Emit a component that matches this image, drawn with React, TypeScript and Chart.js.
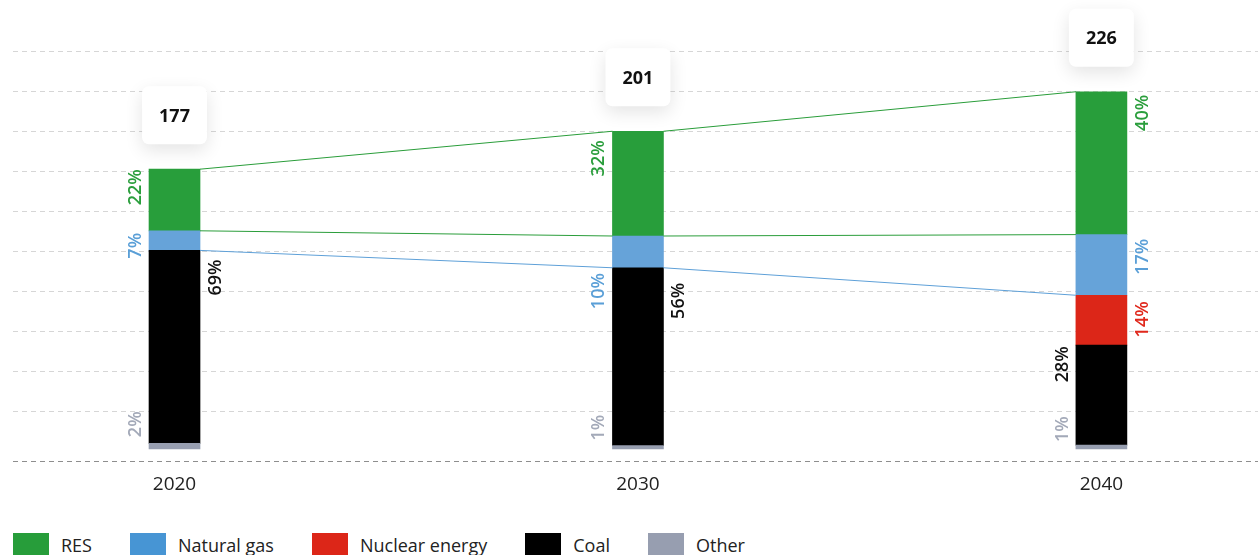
import React, { useEffect, useRef } from "react";
import { Chart, registerables } from "chart.js";

Chart.register(...registerables);

// ---- data -------------------------------------------------------------
const YEARS = [2020, 2030, 2040];

// generation by source (stacked bottom to top: other, coal, nuclear, gas, RES)
const RES = [39.0, 66.3, 90.4];
const NATURAL_GAS = [12.4, 20.1, 38.4];
const NUCLEAR = [null, null, 31.6];
const COAL = [122.1, 112.6, 63.3];
const OTHER = [3.5, 2.0, 2.3];

// share of each source in the yearly total, %
const RES_SHARE = [22, 32, 40];
const GAS_SHARE = [7, 10, 17];
const NUCLEAR_SHARE = [null, null, 14];
const COAL_SHARE = [69, 56, 28];
const OTHER_SHARE = [2, 1, 1];

// ---- look & layout ----------------------------------------------------
const FONT = '"Open Sans", "Noto Sans", sans-serif';

type Side = "left" | "right";
interface Series {
  label: string;
  data: (number | null)[];
  share: (number | null)[];
  bar: string;
  legend: string;
  text: string;
  side: Side[];
  shift: number[]; // vertical nudge of the rotated share label from the segment top
}

const SERIES: Series[] = [
  { label: "Other", data: OTHER, share: OTHER_SHARE, bar: "#979eb0", legend: "#979eb0", text: "#a3a9b8", side: ["left", "left", "left"], shift: [-32, -31, -29] },
  { label: "Coal", data: COAL, share: COAL_SHARE, bar: "#000000", legend: "#000000", text: "#111111", side: ["right", "right", "left"], shift: [9, 15, 1] },
  { label: "Nuclear energy", data: NUCLEAR, share: NUCLEAR_SHARE, bar: "#dc2618", legend: "#dc2618", text: "#e0281c", side: ["right", "right", "right"], shift: [0, 0, 6] },
  { label: "Natural gas", data: NATURAL_GAS, share: GAS_SHARE, bar: "#66a3d9", legend: "#4795d4", text: "#5a9fd7", side: ["left", "left", "right"], shift: [2, 37, 4] },
  { label: "RES", data: RES, share: RES_SHARE, bar: "#289e3b", legend: "#279d3a", text: "#2a9e3c", side: ["left", "left", "right"], shift: [0, 9, 3] },
];

// thin lines joining segment edges of neighbouring bars
const CONNECTORS = [
  { series: 4, edge: "top", color: "#2a9d3a" },
  { series: 4, edge: "bottom", color: "#2a9d3a" },
  { series: 3, edge: "bottom", color: "#5ea0d8" },
];

const X_MIN = 2016.515;
const X_MAX = 2043.379;
const Y_MIN = -7.7;
const Y_MAX = 251.8;
const GRID_STEP = 25.32;
const GRID_LINES = 10;

const BAR_WIDTH = 51;
const LABEL_GAP = 8;
const LABEL_CAP = 13;

const overlayPlugin = {
  id: "overlay",
  afterDatasetsDraw(chart: any) {
    const ctx: CanvasRenderingContext2D = chart.ctx;

    // connectors
    CONNECTORS.forEach(({ series, edge, color }) => {
      const meta = chart.getDatasetMeta(series);
      const values = SERIES[series].data;
      ctx.save();
      ctx.strokeStyle = color;
      ctx.lineWidth = 1;
      for (let j = 0; j < meta.data.length - 1; j++) {
        if (values[j] == null || values[j + 1] == null) continue;
        const a = meta.data[j];
        const b = meta.data[j + 1];
        const ya = edge === "top" ? a.y : a.base;
        const yb = edge === "top" ? b.y : b.base;
        ctx.beginPath();
        ctx.moveTo(a.x + a.width / 2, ya);
        ctx.lineTo(b.x - b.width / 2, yb);
        ctx.stroke();
      }
      ctx.restore();
    });

    // rotated share labels
    SERIES.forEach((s, i) => {
      const meta = chart.getDatasetMeta(i);
      s.share.forEach((v, j) => {
        if (v == null || s.data[j] == null) return;
        const el = meta.data[j];
        const left = el.x - el.width / 2;
        const right = el.x + el.width / 2;
        const x = s.side[j] === "left" ? left - LABEL_GAP : right + LABEL_GAP + LABEL_CAP;
        const y = el.y + s.shift[j];
        ctx.save();
        ctx.translate(x, y);
        ctx.rotate(-Math.PI / 2);
        ctx.font = `600 18px ${FONT}`;
        ctx.fillStyle = s.text;
        ctx.textAlign = "right";
        ctx.textBaseline = "alphabetic";
        ctx.fillText(`${v}%`, 0, 0);
        ctx.restore();
      });
    });

    // totals in white cards above each bar
    YEARS.forEach((_, j) => {
      let total = 0;
      let top = Infinity;
      let cx = 0;
      SERIES.forEach((s, i) => {
        const v = s.data[j];
        if (v == null) return;
        total += v;
        const el = chart.getDatasetMeta(i).data[j];
        top = Math.min(top, el.y);
        cx = el.x;
      });
      const text = String(Math.round(total));
      ctx.save();
      ctx.font = `700 18px ${FONT}`;
      const w = ctx.measureText(text).width + 34;
      const h = 58;
      const bx = cx - w / 2;
      const by = top - 25 - h;
      ctx.shadowColor = "rgba(0,0,0,0.11)";
      ctx.shadowBlur = 18;
      ctx.shadowOffsetY = 6;
      ctx.fillStyle = "#ffffff";
      ctx.beginPath();
      ctx.roundRect(bx, by, w, h, 7);
      ctx.fill();
      ctx.shadowColor = "transparent";
      ctx.fillStyle = "#111111";
      ctx.textAlign = "center";
      ctx.textBaseline = "alphabetic";
      ctx.fillText(text, cx, by + h / 2 + 6.4);
      ctx.restore();
    });
  },
};

export default function App() {
  const canvasRef = useRef<HTMLCanvasElement | null>(null);

  useEffect(() => {
    const canvas = canvasRef.current;
    if (!canvas) return;
    const chart = new Chart(canvas, {
      type: "bar",
      data: {
        labels: YEARS as any,
        datasets: SERIES.map((s) => ({
          label: s.label,
          data: s.data as any,
          backgroundColor: s.bar,
          borderWidth: 0,
          barThickness: BAR_WIDTH,
          stack: "total",
        })),
      },
      options: {
        responsive: false,
        maintainAspectRatio: false,
        animation: false,
        events: [],
        layout: { padding: { left: 13, top: 51, right: 0, bottom: 0 } },
        plugins: { legend: { display: false }, tooltip: { enabled: false } },
        scales: {
          x: {
            type: "linear",
            stacked: true,
            offset: false,
            min: X_MIN,
            max: X_MAX,
            grid: { display: false, drawTicks: false, offset: false },
            border: { display: false },
            afterBuildTicks: (scale: any) => {
              scale.ticks = YEARS.map((v) => ({ value: v }));
            },
            afterFit: (scale: any) => {
              scale.height = 59;
            },
            ticks: {
              autoSkip: false,
              maxRotation: 0,
              padding: 12,
              color: "#222222",
              font: { family: FONT, size: 19 },
              callback: (v: any) => String(v),
            },
          },
          y: {
            stacked: true,
            min: Y_MIN,
            max: Y_MAX,
            grid: {
              drawTicks: false,
              lineWidth: 1,
              color: (c: any) => (c.index === 0 ? "#8e8e8e" : "#d6d6d6"),
            },
            border: { display: false, dash: [5, 4] },
            ticks: { display: false },
            afterBuildTicks: (scale: any) => {
              const vals = [Y_MIN];
              for (let k = 0; k < GRID_LINES; k++) vals.push(Y_MAX - k * GRID_STEP);
              vals.sort((a, b) => a - b);
              scale.ticks = vals.map((v) => ({ value: v }));
            },
            afterFit: (scale: any) => {
              scale.width = 0;
            },
          },
        },
      } as any,
      plugins: [overlayPlugin],
    });

    let alive = true;
    if ((document as any).fonts) {
      Promise.all([
        document.fonts.load(`400 19px ${FONT}`),
        document.fonts.load(`600 18px ${FONT}`),
        document.fonts.load(`700 18px ${FONT}`),
      ]).then(() => {
        if (alive) chart.update();
      });
    }
    return () => {
      alive = false;
      chart.destroy();
    };
  }, []);

  const legendItems = [...SERIES].reverse();

  return (
    <div
      style={{
        position: "absolute",
        left: 0,
        top: 0,
        width: 1258,
        height: 555,
        overflow: "hidden",
        background: "#ffffff",
      }}
    >
      <canvas ref={canvasRef} width={1258} height={520} style={{ display: "block", width: 1258, height: 520 }} />
      <div
        style={{
          position: "absolute",
          left: 13,
          top: 533,
          display: "flex",
          alignItems: "center",
          fontFamily: FONT,
          fontSize: 18,
          lineHeight: "24px",
          color: "#222222",
          whiteSpace: "nowrap",
        }}
      >
        {legendItems.map((s) => (
          <div key={s.label} style={{ display: "flex", alignItems: "center", marginRight: 38 }}>
            <span style={{ display: "inline-block", width: 36, height: 24, background: s.legend, marginRight: 12 }} />
            <span>{s.label}</span>
          </div>
        ))}
      </div>
    </div>
  );
}
